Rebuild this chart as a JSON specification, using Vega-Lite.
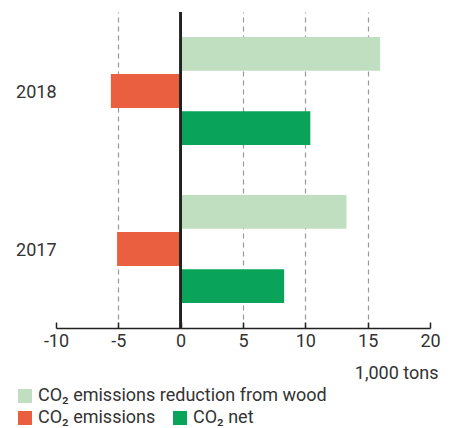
{
  "$schema": "https://vega.github.io/schema/vega-lite/v6.json",
  "width": 374,
  "height": 316,
  "autosize": {"type": "none"},
  "padding": {"left": 56, "top": 12, "right": 24, "bottom": 100},
  "config": {
    "font": "Roboto",
    "view": {"stroke": null},
    "legend": {
      "symbolType": "square",
      "symbolSize": 196,
      "symbolStrokeWidth": 0,
      "labelFontSize": 18,
      "labelColor": "#333",
      "labelOffset": 4,
      "labelLimit": 400,
      "title": null,
      "padding": 0,
      "rowPadding": 3
    }
  },
  "data": {
    "values": [
      {"year": "2018", "kind": "reduction", "series": "CO₂ emissions reduction from wood", "value": 16.0},
      {"year": "2018", "kind": "emissions", "series": "CO₂ emissions", "value": -5.6},
      {"year": "2018", "kind": "net", "series": "CO₂ net", "value": 10.4},
      {"year": "2017", "kind": "reduction", "series": "CO₂ emissions reduction from wood", "value": 13.3},
      {"year": "2017", "kind": "emissions", "series": "CO₂ emissions", "value": -5.1},
      {"year": "2017", "kind": "net", "series": "CO₂ net", "value": 8.3}
    ]
  },
  "layer": [
    {
      "transform": [{"filter": {"field": "kind", "equal": "reduction"}}],
      "mark": {"type": "bar"},
      "encoding": {
        "y": {"field": "year", "type": "nominal", "sort": "descending",
          "scale": {"paddingInner": 0.316, "paddingOuter": 0.158},
          "axis": {"title": null, "domain": false, "ticks": false, "labelPadding": 0, "labelFontSize": 18, "labelColor": "#333", "grid": false, "labelOffset": 2}},
        "yOffset": {"field": "kind", "type": "nominal", "sort": ["reduction", "emissions", "net"],
          "scale": {"domain": ["reduction", "emissions", "net"], "paddingInner": 0.086, "paddingOuter": 0}},
        "x": {"field": "value", "type": "quantitative",
          "scale": {"domain": [-10, 20], "nice": false, "zero": false},
          "axis": {"values": [-10, -5, 0, 5, 10, 15, 20], "title": "1,000 tons",
            "labelExpr": "datum.value + ''", "labelAlign": "center", "labelFlush": false,
            "grid": true, "gridDash": [5, 4], "gridColor": "#999", "gridWidth": 1.2,
            "gridOpacity": {"condition": {"test": "datum.value === -10 || datum.value === 0 || datum.value === 20", "value": 0}, "value": 1},
            "tickSize": -6, "tickColor": "#222", "tickWidth": 1.5, "domainColor": "#222", "domainWidth": 1.5,
            "labelFontSize": 18, "labelColor": "#333", "labelPadding": 10,
            "titleFontSize": 18, "titleFontWeight": "normal", "titleColor": "#333",
            "titleAlign": "right", "titleX": 382, "titleY": 50, "titleBaseline": "alphabetic"}},
        "color": {"field": "series", "type": "nominal",
          "scale": {"domain": ["CO₂ emissions reduction from wood"], "range": ["#bfdfc0"]},
          "legend": {"orient": "none", "legendX": -40, "legendY": 375}}
      }
    },
    {
      "transform": [{"filter": {"field": "kind", "oneOf": ["emissions", "net"]}}],
      "mark": {"type": "bar"},
      "encoding": {
        "y": {"field": "year", "type": "nominal", "sort": "descending",
          "scale": {"paddingInner": 0.316, "paddingOuter": 0.158},
          "axis": {"title": null, "domain": false, "ticks": false, "labelPadding": 0, "labelFontSize": 18, "labelColor": "#333", "grid": false, "labelOffset": 2}},
        "yOffset": {"field": "kind", "type": "nominal", "sort": ["reduction", "emissions", "net"],
          "scale": {"domain": ["reduction", "emissions", "net"], "paddingInner": 0.086, "paddingOuter": 0}},
        "x": {"field": "value", "type": "quantitative",
          "scale": {"domain": [-10, 20], "nice": false, "zero": false},
          "axis": {"values": [-10, -5, 0, 5, 10, 15, 20], "title": "1,000 tons",
            "labelExpr": "datum.value + ''", "labelAlign": "center", "labelFlush": false,
            "grid": true, "gridDash": [5, 4], "gridColor": "#999", "gridWidth": 1.2,
            "gridOpacity": {"condition": {"test": "datum.value === -10 || datum.value === 0 || datum.value === 20", "value": 0}, "value": 1},
            "tickSize": -6, "tickColor": "#222", "tickWidth": 1.5, "domainColor": "#222", "domainWidth": 1.5,
            "labelFontSize": 18, "labelColor": "#333", "labelPadding": 10,
            "titleFontSize": 18, "titleFontWeight": "normal", "titleColor": "#333",
            "titleAlign": "right", "titleX": 382, "titleY": 50, "titleBaseline": "alphabetic"}},
        "color": {"field": "series", "type": "nominal",
          "scale": {"domain": ["CO₂ emissions", "CO₂ net"], "range": ["#e95f40", "#0aa35a"]},
          "legend": {"orient": "none", "legendX": -40, "legendY": 397, "direction": "horizontal", "columnPadding": 15}}
      }
    },
    {
      "mark": {"type": "rule", "color": "#222", "strokeWidth": 2},
      "encoding": {
        "x": {"datum": 0, "type": "quantitative"}
      }
    }
  ],
  "resolve": {"scale": {"color": "independent"}, "legend": {"color": "independent"}}
}
